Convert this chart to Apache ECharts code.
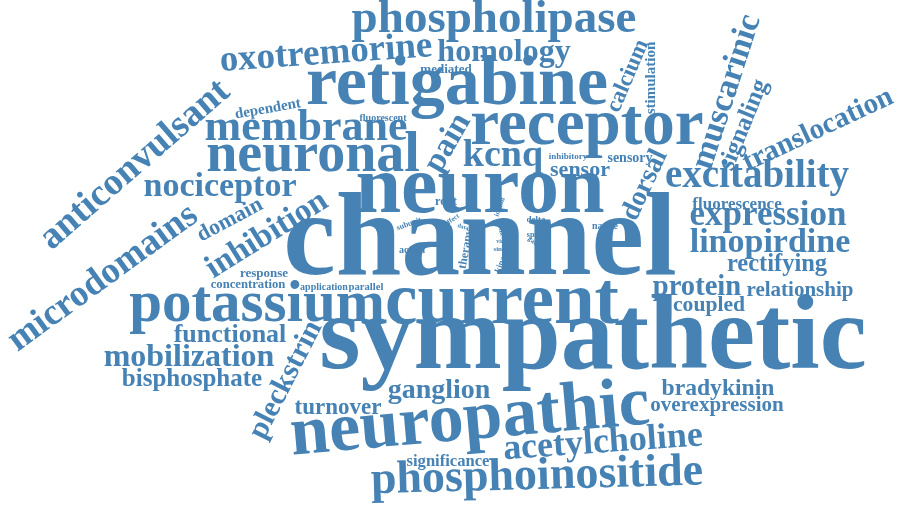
<!DOCTYPE html>
<html>

<head>
    <title>Word Cloud - Kcnq Channel Terms</title>
    <meta charset="utf-8">
    <script src="https://cdn.jsdelivr.net/npm/echarts@6/dist/echarts.min.js"></script>
    <style>
        html, body { margin: 0; padding: 0; background: #fff; }
    </style>
</head>

<body>
    <!-- chart container, same size as the window -->
    <div id="main" style="width: 900px;height:516px;"></div>

    <script type="text/javascript">
        // words of the cloud
        var words = ['channel', 'sympathetic', 'neuron', 'current', 'retigabine', 'neuropathic', 'receptor',
            'potassium', 'neuronal', 'phosphoinositide', 'phospholipase', 'membrane', 'anticonvulsant',
            'microdomains', 'excitability', 'acetylcholine', 'oxotremorine', 'muscarinic', 'expression',
            'linopirdine', 'nociceptor', 'kcnq', 'inhibition', 'pain', 'homology', 'mobilization',
            'translocation', 'pleckstrin', 'protein', 'ganglion', 'dorsal', 'functional', 'calcium',
            'signaling', 'bisphosphate', 'rectifying', 'bradykinin', 'turnover', 'domain', 'sensor',
            'coupled', 'relationship', 'overexpression', 'fluorescence', 'significance', 'dependent',
            'stimulation', 'sensory', 'response', 'concentration', 'mediated', 'root', 'therapy',
            'fluorescent', 'application', 'parallel', 'native', 'action', 'inhibitory', 'delta', 'kinase',
            'spinal', 'subunit', 'single', 'inhibit', 'effect', 'gated', 'data', 'these', 'via'];

        // weight of each word (rendered font size)
        var weights = [118, 106, 82, 73, 70, 70, 65,
            59, 56, 46, 47, 44, 38,
            37, 39, 36, 37, 34, 35,
            34, 34, 38, 33, 33, 32, 32,
            29, 30, 28.6, 28, 28, 26, 23,
            25, 25, 24.5, 23.6, 23, 22, 22,
            21.6, 21, 21, 17, 16.6, 15,
            15, 14, 13, 12.7, 13, 12.5, 12,
            10, 10, 10.7, 10, 10, 9, 9, 9,
            8, 8, 7, 7, 7, 7, 6, 6, 6];

        // placement of each word in the cloud (0-900 across, 0-516 down)
        var wordX = [480, 593, 480, 502, 457, 470, 587,
            257, 313, 537, 494, 306, 135,
            103, 757, 603, 326, 727, 768,
            770, 220, 503, 267, 448, 504, 189,
            818, 286, 697, 439, 645, 230, 628,
            744, 192, 777, 718, 338, 230, 580,
            709, 800, 717, 737, 448, 268,
            651, 630, 264, 248, 446, 446, 466,
            383, 324, 366, 605, 412, 568, 536, 502,
            537, 409, 502, 500, 452, 535, 463, 502, 500];
        var wordY = [244, 341, 191, 304, 86, 421, 127,
            306, 157, 477, 20, 129, 165,
            278, 177, 443, 54, 92, 216,
            243, 187, 156, 235, 143, 53, 358,
            130, 380, 288, 391, 185, 335, 76,
            125, 380, 265, 389, 408, 220, 170,
            305, 291, 406, 205, 462, 109,
            78, 158, 274, 285, 70, 202, 249,
            118, 287, 287, 226, 250, 157, 220, 261,
            235, 224, 249, 207, 220, 243, 227, 235, 241];
        // tilt of each word, degrees
        var wordAngle = [0, 0, 0, 0, 0, 5, 0,
            0, 0, 1.5, 0, 0, 41,
            36, 0, 4, 4, 72, 0,
            0, 0, 0, 32, 60, 0, 0,
            25, 63, 0, 0, 65, 0, 67,
            68, 0, 0, 0, 0, 28, 0,
            0, 0, 0, 0, 0, 10,
            90, 0, 0, 0, 0, 0, 80,
            0, 0, 0, 0, 0, 0, 0, 70,
            0, 20, 0, 70, 35, -40, -15, -75, 0];

        var myChart = echarts.init(document.getElementById('main'));

        var cloud = words.map(function (w, i) {
            return {
                name: w,
                value: [wordX[i], wordY[i], weights[i]],
                label: {
                    fontSize: weights[i],
                    rotate: wordAngle[i]
                }
            };
        });

        var option = {
            animation: false,
            grid: { left: 0, right: 0, top: 0, bottom: 0 },
            xAxis: { type: 'value', min: 0, max: 900, show: false },
            yAxis: { type: 'value', min: 0, max: 516, inverse: true, show: false },
            series: [{
                type: 'scatter',
                silent: true,
                symbolSize: 1,
                // scatter fades items to 0.8 by default, keep words solid
                itemStyle: { color: 'rgba(0,0,0,0)', opacity: 1 },
                label: {
                    show: true,
                    position: 'inside',
                    align: 'center',
                    verticalAlign: 'middle',
                    formatter: '{b}',
                    color: '#4682b4',
                    fontFamily: 'Liberation Serif',
                    fontWeight: 'bold'
                },
                data: cloud
            }]
        };

        myChart.setOption(option);
    </script>
</body>

</html>
